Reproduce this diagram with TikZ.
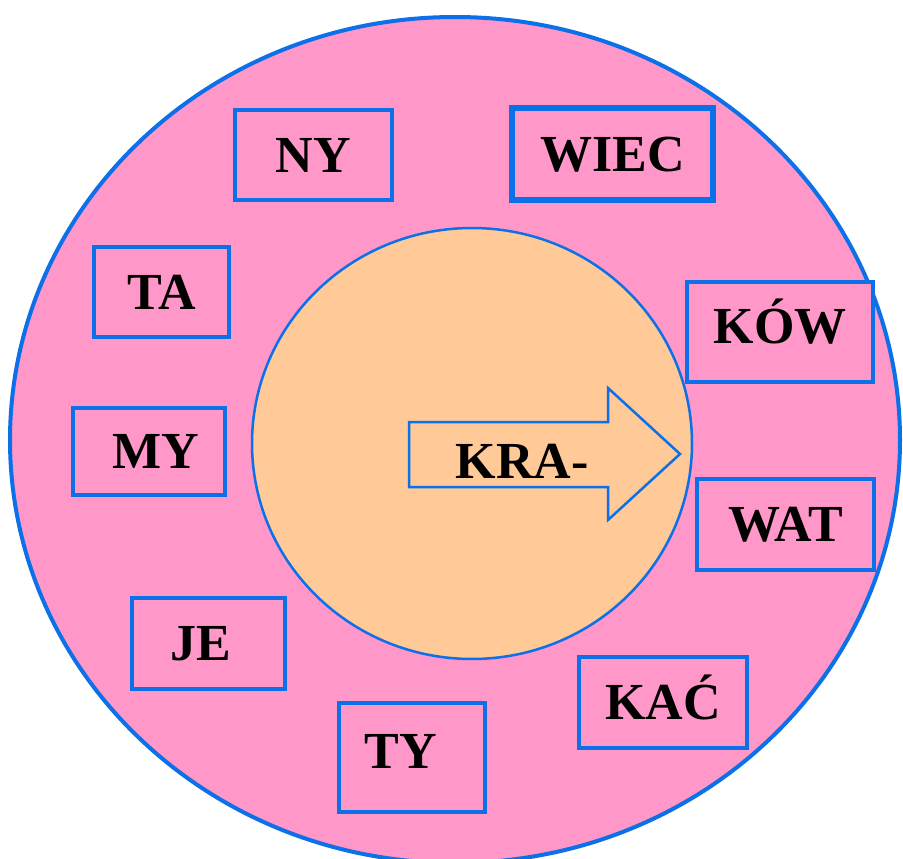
\documentclass[tikz,border=0pt]{standalone}
\usepackage{fontspec}
\setmainfont{Liberation Serif}
\definecolor{ringpink}{RGB}{255,151,201}
\definecolor{corepeach}{RGB}{255,201,152}
\definecolor{edgeblue}{RGB}{12,112,232}
\tikzset{
  syl/.style={draw=edgeblue, line width=4.5pt, fill=ringpink, inner sep=0pt,
    font=\fontsize{52}{62}\selectfont\bfseries, text height=34.5pt, text depth=0pt},
}
\begin{document}
\begin{tikzpicture}[x=1pt,y=-1pt]
		\useasboundingbox (0,0) rectangle (903,859);
		\fill[white] (0,0) rectangle (903,859);
		\draw[draw=edgeblue, line width=4pt, fill=ringpink] (455,440) ellipse (445 and 423);
		\draw[draw=edgeblue, line width=2.5pt, fill=corepeach] (472,443.5) ellipse (220 and 215.5);
		
		\draw[draw=edgeblue, line width=2.5pt, line join=miter] (409,422) -- (608,422) -- (608,388) -- (680,454) -- (608,520) -- (608,487) -- (409,487) -- cycle;
		\node[font=\fontsize{52}{62}\selectfont\bfseries, inner sep=0pt, text height=34.5pt, text depth=0pt] (kra) at (522,461) {KRA-};
		
		\node[syl, minimum width=157pt, minimum height=90pt] (ny) at (313.5,155) {NY};
		\node[syl, line width=6pt, minimum width=201pt, minimum height=92pt] (wiec) at (612.5,154) {WIEC};
		\node[syl, minimum width=135pt, minimum height=90pt] (ta) at (161.5,292) {TA};
		\node[syl, minimum width=186pt, minimum height=100pt, text depth=12pt] (kow) at (780,332) {KÓW};
		\node[syl, minimum width=152pt, minimum height=87pt] (my) at (149,451.5) {\hspace*{14pt}MY};
		\node[syl, minimum width=177pt, minimum height=91pt] (wat) at (785.5,524.5) {WAT};
		\node[syl, minimum width=153pt, minimum height=91pt] (je) at (208.5,643.5) {JE\hspace*{16pt}};
		\node[syl, minimum width=146pt, minimum height=109pt, text depth=13pt] (ty) at (412,757.5) {TY\hspace*{22pt}};
		\node[syl, minimum width=168pt, minimum height=91pt] (kac) at (663,702.5) {KAĆ};
\end{tikzpicture}
\end{document}
